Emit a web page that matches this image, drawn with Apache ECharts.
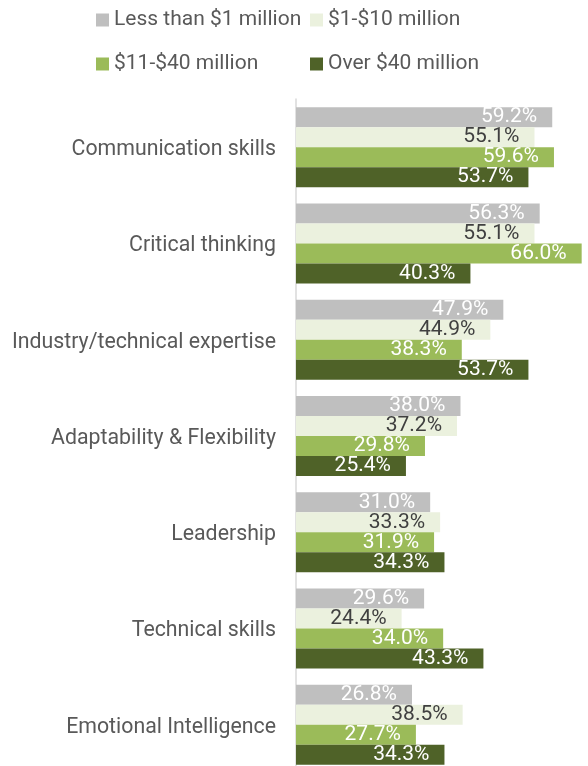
<!DOCTYPE html>
<html>
<head>
<meta charset="utf-8">
<script src="https://cdn.jsdelivr.net/npm/echarts@6/dist/echarts.min.js"></script>
<style>
  html, body { margin: 0; padding: 0; background: #fff; }
  #chart { width: 588px; height: 766px; }
</style>
</head>
<body>
<div id="chart"></div>
<script>
// Skills named as most important, by company revenue band (percent of respondents)
const categories = [
  'Communication skills',
  'Critical thinking',
  'Industry/technical expertise',
  'Adaptability & Flexibility',
  'Leadership',
  'Technical skills',
  'Emotional Intelligence'
];
const seriesNames = ['Less than $1 million', '$1-$10 million', '$11-$40 million', 'Over $40 million'];
const lessThan1M = [59.2, 56.3, 47.9, 38.0, 31.0, 29.6, 26.8];
const from1To10M = [55.1, 55.1, 44.9, 37.2, 33.3, 24.4, 38.5];
const from11To40M = [59.6, 66.0, 38.3, 29.8, 31.9, 34.0, 27.7];
const over40M = [53.7, 40.3, 53.7, 25.4, 34.3, 43.3, 34.3];

const seriesValues = [lessThan1M, from1To10M, from11To40M, over40M];
const barColors = ['#BFBFBF', '#EBF1DE', '#9BBB59', '#4F6228'];
const labelColors = ['#FFFFFF', '#404040', '#FFFFFF', '#FFFFFF'];

const FONT = 'Roboto, "Noto Sans", sans-serif';

const chart = echarts.init(document.getElementById('chart'), null, { renderer: 'canvas' });

const legendCommon = {
  orient: 'vertical',
  top: 8,
  padding: 0,
  itemWidth: 13,
  itemHeight: 13,
  itemGap: 20,
  icon: 'rect',
  selectedMode: false,
  textStyle: { fontFamily: FONT, fontSize: 21, color: '#595959', lineHeight: 24 }
};

chart.setOption({
  animation: false,
  textStyle: { fontFamily: FONT },
  legend: [
    Object.assign({}, legendCommon, { left: 96, data: [seriesNames[0], seriesNames[2]] }),
    Object.assign({}, legendCommon, { left: 310, data: [seriesNames[1], seriesNames[3]] })
  ],
  // the plot runs a little past the bottom edge, so the last group is cut off
  grid: {
    left: 296, width: 290, top: 99, height: 674,
    containLabel: false,
    outerBoundsMode: 'none'
  },
  xAxis: {
    type: 'value',
    min: 0,
    max: 67,
    show: false,
    splitLine: { show: false }
  },
  yAxis: {
    type: 'category',
    data: categories,
    inverse: true,
    axisTick: { show: false },
    axisLine: { show: true, lineStyle: { color: '#D9D9D9', width: 1.5 } },
    axisLabel: {
      margin: 20,
      formatter: v => '{cat|' + v + '}',
      rich: {
        cat: {
          fontFamily: FONT,
          fontSize: 21.3,
          color: '#595959',
          padding: [5, 0, 0, 0]
        }
      }
    }
  },
  series: seriesNames.map((name, i) => ({
    name: name,
    type: 'bar',
    data: seriesValues[i],
    barWidth: 20,
    barGap: '0%',
    itemStyle: { color: barColors[i] },
    label: {
      show: true,
      position: 'insideRight',
      distance: 15,
      fontFamily: FONT,
      fontSize: 21,
      color: labelColors[i],
      formatter: p => p.value.toFixed(1) + '%'
    }
  }))
});
</script>
</body>
</html>
